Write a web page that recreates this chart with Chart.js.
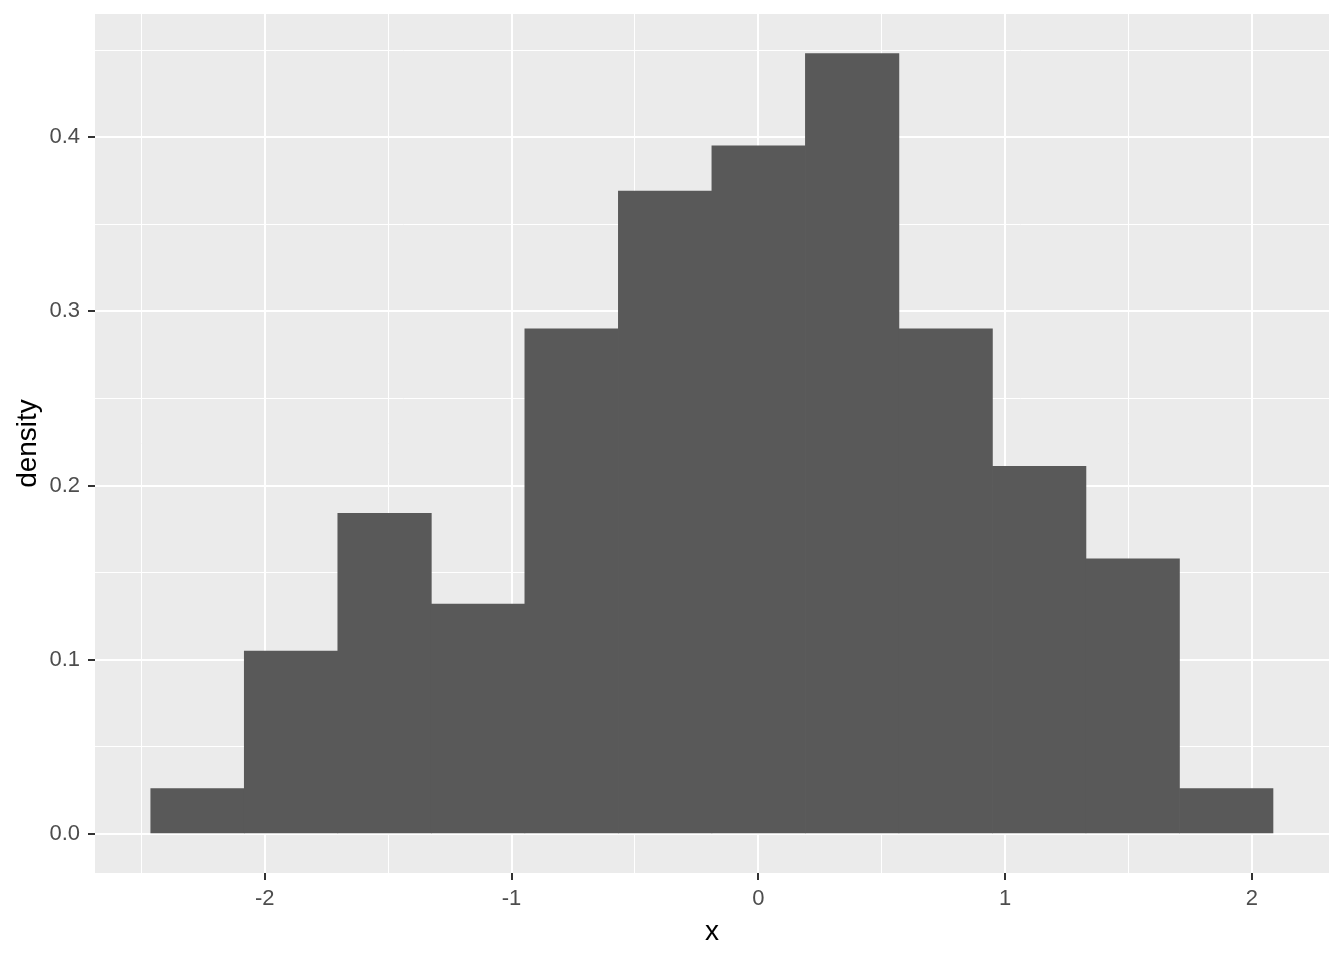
<!DOCTYPE html>
<html>
<head>
<meta charset="utf-8">
<script src="https://cdn.jsdelivr.net/npm/chart.js@4/dist/chart.umd.min.js"></script>
<style>
  html, body { margin: 0; padding: 0; background: #fff; }
  #wrap { width: 1344px; height: 960px; }
</style>
</head>
<body>
<div id="wrap"><canvas id="hist"></canvas></div>
<script>
// bin edges and densities
const binEdges = [-2.462, -2.083, -1.704, -1.325, -0.946, -0.567, -0.188, 0.191, 0.570, 0.949, 1.328, 1.707, 2.086];
const densities = [0.026, 0.105, 0.184, 0.132, 0.290, 0.369, 0.395, 0.448, 0.290, 0.211, 0.158, 0.026];

const xMajorTicks = [-2, -1, 0, 1, 2];
const xMinorTicks = [-2.5, -1.5, -0.5, 0.5, 1.5];
const yMajorTicks = [0, 0.1, 0.2, 0.3, 0.4];
const yMinorTicks = [0.05, 0.15, 0.25, 0.35, 0.45];

const xLimits = [-2.688, 2.313];
const yLimits = [-0.0224, 0.4707];

const PANEL_BG = '#EBEBEB';
const BAR_COLOR = '#595959';
const TICK_TEXT = '#4D4D4D';
const FONT = "'Liberation Sans', Arial, sans-serif";

const isMajor = (list, v) => list.some((m) => Math.abs(m - v) < 1e-9);
const tickIsMajor = (list, ctx) => !!ctx.tick && isMajor(list, ctx.tick.value);

const points = densities.map((d, i) => ({ x: (binEdges[i] + binEdges[i + 1]) / 2, y: d }));

const panelBackground = {
  id: 'panelBackground',
  beforeDraw(chart) {
    const { ctx, chartArea: a } = chart;
    ctx.save();
    ctx.fillStyle = PANEL_BG;
    ctx.fillRect(a.left, a.top, a.right - a.left, a.bottom - a.top);
    ctx.restore();
  },
};

function setTicks(values) {
  return (scale) => {
    scale.ticks = values.slice().sort((a, b) => a - b).map((v) => ({ value: v }));
  };
}

new Chart(document.getElementById('hist'), {
  type: 'bar',
  data: {
    datasets: [{
      data: points,
      backgroundColor: BAR_COLOR,
      borderWidth: 0,
      barPercentage: 1,
      categoryPercentage: 1,
    }],
  },
  options: {
    responsive: true,
    maintainAspectRatio: false,
    animation: false,
    layout: { padding: { top: 14, right: 15, left: 0, bottom: 0 } },
    plugins: {
      legend: { display: false },
      tooltip: { enabled: false },
    },
    scales: {
      x: {
        type: 'linear',
        min: xLimits[0],
        max: xLimits[1],
        offset: false,
        afterBuildTicks: setTicks([...xMajorTicks, ...xMinorTicks]),
        afterFit: (scale) => {
          scale.height = 87;
          scale.paddingLeft = 0;
          scale.paddingRight = 0;
        },
        border: { display: false },
        grid: {
          offset: false,
          color: '#FFFFFF',
          lineWidth: (ctx) => (tickIsMajor(xMajorTicks, ctx) ? 2 : 1),
          drawTicks: true,
          tickLength: 7,
          tickWidth: 2,
          tickColor: (ctx) => (tickIsMajor(xMajorTicks, ctx) ? '#333333' : 'rgba(0,0,0,0)'),
        },
        ticks: {
          autoSkip: false,
          maxRotation: 0,
          padding: 6,
          color: TICK_TEXT,
          font: { family: FONT, size: 22 },
          callback: (v) => (isMajor(xMajorTicks, v) ? String(v) : ''),
        },
        title: {
          display: true,
          text: 'x',
          color: '#000000',
          font: { family: FONT, size: 28 },
          padding: { top: 0, bottom: 11 },
        },
      },
      y: {
        type: 'linear',
        min: yLimits[0],
        max: yLimits[1],
        afterBuildTicks: setTicks([...yMajorTicks, ...yMinorTicks]),
        afterFit: (scale) => {
          scale.width = 95;
          scale.paddingTop = 0;
          scale.paddingBottom = 0;
        },
        border: { display: false },
        grid: {
          color: '#FFFFFF',
          lineWidth: (ctx) => (tickIsMajor(yMajorTicks, ctx) ? 2 : 1),
          drawTicks: true,
          tickLength: 7,
          tickWidth: 2,
          tickColor: (ctx) => (tickIsMajor(yMajorTicks, ctx) ? '#333333' : 'rgba(0,0,0,0)'),
        },
        ticks: {
          autoSkip: false,
          padding: 8,
          color: TICK_TEXT,
          font: { family: FONT, size: 22 },
          callback: (v) => (isMajor(yMajorTicks, v) ? v.toFixed(1) : ''),
        },
        title: {
          display: true,
          text: 'density',
          color: '#000000',
          font: { family: FONT, size: 28 },
          padding: { top: 11, bottom: 0 },
        },
      },
    },
  },
  plugins: [panelBackground],
});
</script>
</body>
</html>
